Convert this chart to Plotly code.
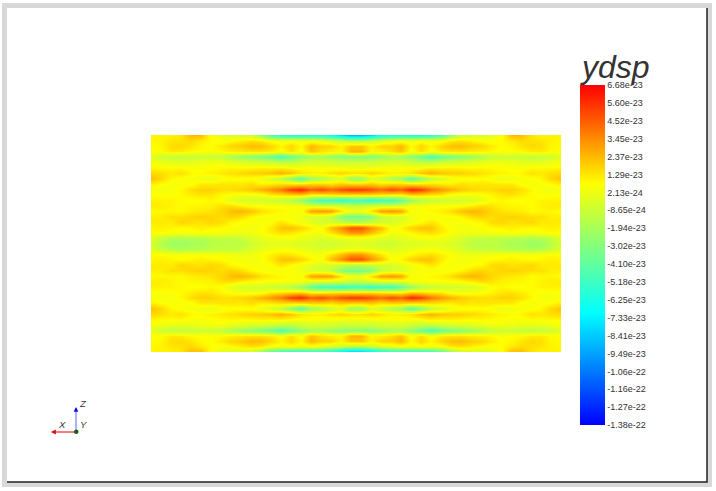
import numpy as np
import plotly.graph_objects as go

# ydsp field in units of 1e-23, one quadrant (the field is mirrored in both directions)
r00 = [1.0,1.0,1.0,1.3,2.3,2.3,0.5,0,-0.3,-0.6,-.8,-2.5,-4.5,-5.5,-6,-6,-6,-6,-6.5,-8,-9]
r01 = [.9,1,1.3,1.4,1.6,1.2,.8,.5,.7,1.1,1.4,1.2,.5,.3,.5,.3,.3,0,-.5,-1,-1.5]
r02 = [.8,.9,1.5,1.6,1.3,.9,.7,1.2,1.7,1.9,2.3,2.2,1.7,.9,1.7,.8,2.4,1.8,1.7,1,2]
r03 = [.8,.8,1.2,1.1,.8,.7,.6,.8,1,1.1,1.3,1.3,1.1,.5,1.4,.5,2.1,1.4,1,.8,2.5]
r04 = [-.2,-.9,-1.2,-1.2,-1.1,-1,-.9,-1.2,-1.9,-2.4,-3,-3.4,-4,-5,-3.8,-2.8,-2.2,-2,-2.5,-3,-3]
r05 = [.5,.2,0,-.1,0,.2,.3,.3,0,-.2,-.4,-.6,-.8,-1.2,-1.2,-.8,-.4,-.5,-.5,-.8,-.8]
r06 = [.9,.8,.8,.8,.6,.6,.7,.8,.9,.8,.9,1,.9,1,.7,.6,.5,.5,.4,.3,.3]
r07 = [1.6,1.5,1.2,1.4,.9,.8,1,1.2,1.4,1.6,1.8,1.9,2.1,2.5,2.1,1.3,1.1,1,1.4,1.7,1.4]
r08 = [2.2,1.7,.9,.6,.5,.2,0,.4,.7,.6,.5,.2,-.6,-1.3,-2.8,-4.5,-2.4,-1.8,-.9,-.4,-2.5]
r09 = [1.1,.8,.5,.5,.7,1.2,1.2,1.3,1.3,1.2,1.5,1.1,1.3,1.5,1.5,1.5,1.8,1.8,1.5,2,1.8]
r10 = [.5,.3,.5,.9,1.5,1.8,1.8,1.5,1.5,1.7,2,2.6,3.2,3.9,5.3,5.9,4.4,5,4.2,4.9,5.4]
r11 = [.7,.6,.6,.8,1.1,1.4,1.3,.9,.7,.5,.4,.5,1.3,1.5,1.8,2,1.2,1.3,1.5,1.7,1.6]
r12 = [1,1,1,.8,.7,.7,.9,.7,-.1,-.4,-.5,-.6,-.8,-1,-1.5,-2.5,-4,-5,-5,-5.5,-5]
r13 = [1.2,1.2,1,.8,.9,.9,1,1.4,1.5,1,.7,.6,.6,.6,.5,.5,-.3,-.5,-.5,-.5,-1]
r14 = [.8,.9,.9,.8,1.1,1.2,1.4,1.7,2.2,2.4,2.1,1.5,1.1,.9,.7,.5,2.8,3.1,2.9,1.4,.3]
r15 = [1.1,1.1,1.5,1.5,1.7,1.8,1.7,1.5,1.8,1.5,.9,.6,.5,.4,.5,.3,-.5,-.5,-1,-3,-3.5]
r16 = [1.2,1.2,1.2,1.7,1.5,1.4,1.7,1.5,.9,.7,.6,.5,.7,1.3,.8,.3,0,-.5,-.5,-1,-1.5]
r17 = [.9,1.1,.9,.8,.9,1.1,.9,.8,.6,.5,.3,.6,1.2,2.1,2.2,1.8,1,.6,2.2,3.3,4.8]
r18 = [.8,.8,.7,.6,.6,.7,.6,.5,.4,.3,.4,.7,1.1,1.5,1.3,.9,.5,.5,1.4,2.3,3.3]
r19 = [-.2,-1,-1.5,-1.7,-1.5,-1.5,-1.2,-1,-1.1,-.9,-.4,0,.3,.5,.5,.2,0,-.3,-.2,.2,.3]
r20 = [-.5,-1.5,-2.4,-2.4,-2,-2,-1.5,-1.4,-1.4,-1.3,-.8,-.4,-.2,-.2,-.4,-.4,-.6,-.8,-.8,-.6,-.4]

quadrant = np.array([r00,r01,r02,r03,r04,r05,r06,r07,r08,r09,r10,r11,r12,r13,r14,r15,r16,r17,r18,r19,r20], dtype=float)

tick_labels = ["6.68e-23","5.60e-23","4.52e-23","3.45e-23","2.37e-23","1.29e-23","2.13e-24",
               "-8.65e-24","-1.94e-23","-3.02e-23","-4.10e-23","-5.18e-23","-6.25e-23","-7.33e-23",
               "-8.41e-23","-9.49e-23","-1.06e-22","-1.16e-22","-1.27e-22","-1.38e-22"]
tick_values = [float(t) / 1e-23 for t in tick_labels]

half = np.hstack([quadrant, quadrant[:, ::-1]])
field = np.vstack([half, half[-2::-1]])

W, H = 716, 491
def px(x): return x / W
def py(y): return 1 - y / H

colorscale = [[0, "rgb(0,0,255)"], [0.33, "rgb(0,255,255)"], [0.71, "rgb(255,255,0)"], [1, "rgb(255,0,0)"]]

fig = go.Figure(go.Heatmap(
    z=field, zmin=-13.8, zmax=6.68, zsmooth="best", colorscale=colorscale, hoverinfo="skip",
    colorbar=dict(
        x=px(580), xanchor="left", xpad=0, y=py(425), yanchor="bottom", ypad=0,
        len=340 / H, lenmode="fraction", thickness=25, outlinewidth=0, ticks="", ticklen=0,
        tickmode="array", tickvals=tick_values, ticktext=tick_labels,
        tickfont=dict(family="Liberation Sans", size=9, color="#333333"),
    ),
))

shapes = [
    dict(type="rect", xref="paper", yref="paper", x0=px(4.5), x1=px(709.5), y0=py(5.5), y1=py(484.5),
         line=dict(color="#d8d8d8", width=5), layer="below"),
    dict(type="path", xref="paper", yref="paper",
         path=f"M {px(707)} {py(8)} L {px(707)} {py(482)} L {px(7)} {py(482)}",
         line=dict(color="#222222", width=1.5), layer="below"),
    dict(type="line", xref="paper", yref="paper", x0=px(76), x1=px(76), y0=py(432), y1=py(410),
         line=dict(color="#b0b0ff", width=2)),
    dict(type="line", xref="paper", yref="paper", x0=px(76), x1=px(54), y0=py(432), y1=py(432),
         line=dict(color="#f05050", width=1.5)),
    dict(type="circle", xref="paper", yref="paper", x0=px(74), x1=px(78.5), y0=py(434), y1=py(429.5),
         fillcolor="#106010", line=dict(color="#106010", width=0)),
]

def lbl(x, y, text, size=9.5):
    return dict(xref="paper", yref="paper", x=px(x), y=py(y), text=text, showarrow=False,
                xanchor="center", yanchor="middle",
                font=dict(family="Liberation Sans", size=size, color="#333333"))

annotations = [
    lbl(615, 67, "<i>ydsp</i>", size=32),
    lbl(83, 403, "<i>Z</i>"),
    lbl(62, 424, "<i>X</i>"),
    lbl(83, 424, "<i>Y</i>"),
    dict(xref="paper", yref="paper", x=px(76), y=py(407), ax=0, ay=4, text="", showarrow=True,
         arrowhead=2, arrowsize=0.8, arrowwidth=1.2, arrowcolor="#1010d0"),
    dict(xref="paper", yref="paper", x=px(51), y=py(432), ax=4, ay=0, text="", showarrow=True,
         arrowhead=2, arrowsize=0.8, arrowwidth=1.2, arrowcolor="#d01010"),
]

fig.update_layout(
    width=W, height=H, margin=dict(l=0, r=0, t=0, b=0), paper_bgcolor="white", plot_bgcolor="white",
    xaxis=dict(domain=[px(151), px(561)], range=[0, 41], visible=False),
    yaxis=dict(domain=[py(352), py(135)], range=[40, 0], visible=False),
    shapes=shapes, annotations=annotations, showlegend=False,
)
fig.write_html("out.html", config=dict(displayModeBar=False),
               post_script="document.body.style.margin='0';document.body.style.overflow='hidden';")
